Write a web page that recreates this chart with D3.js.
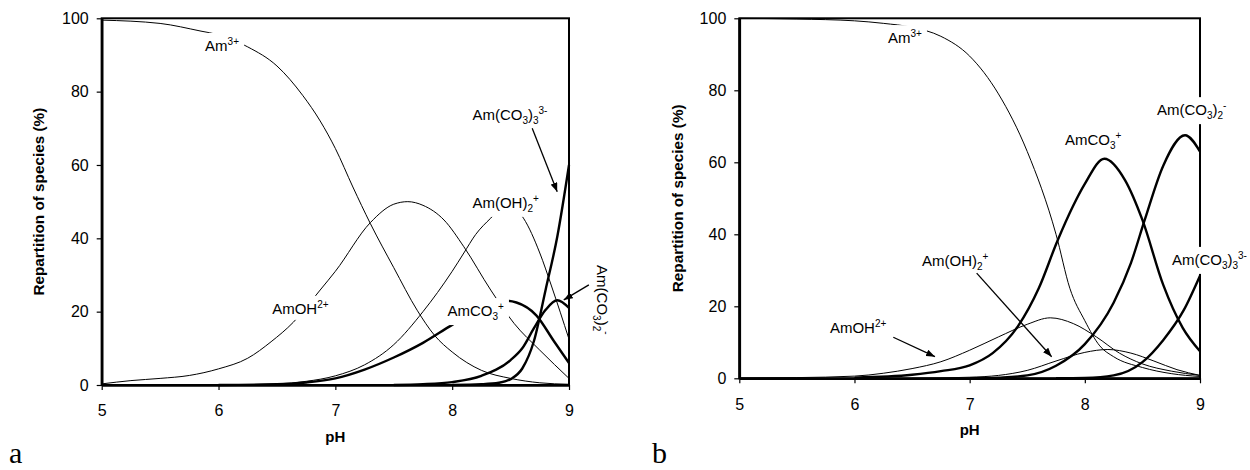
<!DOCTYPE html>
<html><head><meta charset="utf-8">
<script src="https://cdn.jsdelivr.net/npm/d3@7"></script>
<style>
body{margin:0;background:#fff;}
svg{display:block;font-family:Arial,"Liberation Sans",sans-serif;}
</style></head><body>
<svg id="c" width="1250" height="470"></svg>
<script>
// ---------- data ----------
const xTicks = [5, 6, 7, 8, 9];
const yTicks = [0, 20, 40, 60, 80, 100];
const xTitle = "pH";
const yTitle = "Repartition of species (%)";
const panelLetters = ["a", "b"];

// panel a  [pH, %]
const a_Am3     = [[5,99.5],[5.5,98.6],[5.85,96.5],[6,95.5],[6.25,92.2],[6.5,87],[6.72,79],[6.87,72],[7,64.5],[7.15,54],[7.3,44],[7.5,32],[7.7,20.4],[7.85,13.5],[8,9],[8.25,4],[8.5,1.8],[8.75,0.6],[9,0.2]];
const a_AmOH    = [[5,0.3],[5.25,1.2],[5.5,1.8],[5.75,2.6],[6,4.4],[6.25,7.3],[6.45,11.8],[6.64,17.1],[6.87,25.9],[7,31],[7.3,44.3],[7.5,49.3],[7.62,50],[7.75,49],[7.93,45],[8.1,37.7],[8.33,25.9],[8.53,16.8],[8.75,9.5],[9,1.8]];
const a_AmOH2   = [[6,0],[6.5,0.3],[6.75,1],[7,2.5],[7.25,5.5],[7.5,11],[7.75,20],[8,31],[8.1,36],[8.2,41],[8.33,45.5],[8.47,49.5],[8.61,45.5],[8.75,36],[8.85,27],[9,12.5]];
const a_AmCO3   = [[6,0],[6.5,0.2],[6.75,0.7],[7,1.8],[7.25,4.2],[7.5,7.5],[7.75,11.5],[8,16.4],[8.25,20.8],[8.45,23],[8.55,22.5],[8.72,19],[8.87,12],[9,6]];
const a_AmCO3_2 = [[7.5,0],[7.75,0.2],[8,0.8],[8.25,2.5],[8.5,6.8],[8.6,10],[8.7,15.5],[8.8,20.5],[8.9,23.1],[9,21]];
const a_AmCO3_3 = [[8,0],[8.25,0.2],[8.4,0.6],[8.5,1.6],[8.6,4.5],[8.7,12],[8.8,26],[8.9,40.5],[9,60]];

// panel b  [pH, %]
const b_Am3     = [[5,100],[5.5,99.8],[6,99.3],[6.25,98.6],[6.5,97.5],[6.75,95],[7,89.5],[7.25,79],[7.5,63],[7.75,40],[7.87,25],[8,16],[8.13,9],[8.25,6],[8.5,3],[8.75,1.3],[9,0.5]];
const b_AmOH    = [[5,0.1],[5.5,0.2],[6,0.6],[6.25,1.4],[6.5,2.7],[6.75,4.6],[7,7.8],[7.25,11.5],[7.5,15],[7.7,16.8],[7.9,15.2],[8.1,11.5],[8.3,7],[8.5,4],[8.75,2],[9,0.8]];
const b_AmOH2   = [[6.5,0],[7,0.3],[7.25,0.8],[7.5,2.2],[7.75,4.8],[8,7.2],[8.2,8],[8.4,7],[8.6,4.8],[8.8,2.4],[9,0.8]];
const b_AmCO3   = [[6,0.2],[6.5,1],[6.75,2],[7,3.6],[7.2,7],[7.42,14.5],[7.6,25],[7.76,38],[7.9,48],[8,54],[8.17,61],[8.35,55],[8.5,44],[8.68,26],[8.85,14],[9,7.5]];
const b_AmCO3_2 = [[7,0],[7.25,0.2],[7.5,0.8],[7.75,3.5],[8,9.5],[8.25,21],[8.4,32],[8.52,44],[8.68,59],[8.87,67.5],[9,63]];
const b_AmCO3_3 = [[7.75,0],[8,0.1],[8.25,0.8],[8.5,4.5],[8.68,10.6],[8.86,19],[9,28.5]];

// species labels (markup: ^{} superscript, _{} subscript)
const a_labels = [
  {txt:"Am^{3+}",            at:[5.885,91.1]},
  {txt:"Am(CO_{3})_{3}^{3-}", at:[8.173,72.3], arrow:[[8.685,70.0],[8.899,52.7]]},
  {txt:"Am(OH)_{2}^{+}",      at:[8.173,48.3]},
  {txt:"AmOH^{2+}",           at:[6.459,19.4]},
  {txt:"AmCO_{3}^{+}",        at:[7.959,18.8]},
  {txt:"Am(CO_{3})_{2}^{-}",  at:[9.24,32.7], rot:true, arrow:[[9.17,27.3],[8.955,23.2]]}
];
const b_labels = [
  {txt:"Am^{3+}",             at:[6.29,93.1]},
  {txt:"AmCO_{3}^{+}",        at:[7.827,64.8]},
  {txt:"Am(CO_{3})_{2}^{-}",  at:[8.626,73.1]},
  {txt:"Am(CO_{3})_{3}^{3-}", at:[8.756,31.5]},
  {txt:"Am(OH)_{2}^{+}",      at:[6.586,31.2], arrow:[[7.061,29.2],[7.712,6.0]]},
  {txt:"AmOH^{2+}",           at:[5.787,12.6], arrow:[[6.337,11.4],[6.699,6.0]]}
];

// ---------- drawing ----------
const svg = d3.select("#c");
const FS = 15;
const TFS = 16;

svg.append("defs").append("marker")
  .attr("id","arr").attr("markerUnits","userSpaceOnUse")
  .attr("markerWidth",10).attr("markerHeight",7)
  .attr("refX",9).attr("refY",3.5).attr("orient","auto")
  .append("path").attr("d","M0,0 L9,3.5 L0,7 Z").attr("fill","#000");

function parse(s){
  const out=[]; let i=0;
  while(i<s.length){
    if((s[i]==="^"||s[i]==="_") && s[i+1]==="{"){
      const j=s.indexOf("}",i);
      out.push({t:s.slice(i+2,j), k:s[i]==="^"?"sup":"sub"}); i=j+1;
    } else {
      let j=i; while(j<s.length && !((s[j]==="^"||s[j]==="_") && s[j+1]==="{")) j++;
      out.push({t:s.slice(i,j), k:"n"}); i=j;
    }
  }
  return out;
}

function drawPanel(cfg){
  const x = d3.scaleLinear().domain([5,9]).range([cfg.l, cfg.r]);
  const y = d3.scaleLinear().domain([0,100]).range([cfg.b, cfg.t]);
  const g = svg.append("g");

  // curves
  const line = d3.line().x(d=>x(d[0])).y(d=>y(d[1])).curve(d3.curveMonotoneX);
  cfg.series.forEach(s=>{
    g.append("path").attr("d",line(s.d)).attr("fill","none")
     .attr("stroke","#000").attr("stroke-width",s.w).attr("stroke-linejoin","round");
  });

  // frame
  g.append("rect").attr("x",cfg.l).attr("y",cfg.t).attr("width",cfg.r-cfg.l).attr("height",cfg.b-cfg.t)
   .attr("fill","none").attr("stroke","#000").attr("stroke-width",2);

  // axes
  const ax = g.append("g").attr("transform",`translate(0,${cfg.b})`)
    .call(d3.axisBottom(x).tickValues(xTicks).tickFormat(d3.format("d")).tickSize(5).tickSizeOuter(0).tickPadding(15));
  const ay = g.append("g").attr("transform",`translate(${cfg.l},0)`)
    .call(d3.axisLeft(y).tickValues(yTicks).tickSize(5).tickSizeOuter(0).tickPadding(8));
  [ax,ay].forEach(a=>{
    a.select(".domain").attr("stroke-width",2.6);
    a.selectAll(".tick line").attr("stroke-width",1.2);
    a.selectAll("text").attr("font-size",TFS).attr("font-family","Arial, 'Liberation Sans', sans-serif").attr("fill","#000");
  });

  // titles
  g.append("text").attr("x",(cfg.l+cfg.r)/2).attr("y",cfg.b+57).attr("text-anchor","middle")
   .attr("font-weight","bold").attr("font-size",FS).text(xTitle);
  g.append("text").attr("transform",`translate(${cfg.yt},${(cfg.t+cfg.b)/2}) rotate(-90)`)
   .attr("text-anchor","middle").attr("font-weight","bold").attr("font-size",15.3).text(yTitle);

  // labels
  cfg.labels.forEach(L=>{
    const lg = g.append("g");
    const px = x(L.at[0]), py = y(L.at[1]);
    lg.attr("transform", L.rot ? `translate(${px},${py}) rotate(90)` : `translate(${px},${py})`);
    const rect = lg.append("rect").attr("fill","#fff");
    const t = lg.append("text").attr("x",0).attr("y",0).attr("font-size",FS);
    let cur = 0;
    parse(L.txt).forEach(p=>{
      const target = p.k==="sup" ? -6 : p.k==="sub" ? 4 : 0;
      t.append("tspan").attr("dy",target-cur).attr("font-size",p.k==="n"?FS:10).text(p.t);
      cur = target;
    });
    const bb = t.node().getBBox();
    rect.attr("x",bb.x-5).attr("y",bb.y-3).attr("width",bb.width+10).attr("height",bb.height+6);
    if(L.arrow){
      g.append("line")
       .attr("x1",x(L.arrow[0][0])).attr("y1",y(L.arrow[0][1]))
       .attr("x2",x(L.arrow[1][0])).attr("y2",y(L.arrow[1][1]))
       .attr("stroke","#000").attr("stroke-width",1.3).attr("marker-end","url(#arr)");
    }
  });

  svg.append("text").attr("x",cfg.lx).attr("y",463).attr("font-family","'Liberation Serif','Times New Roman',serif")
   .attr("font-size",30).text(cfg.letter);
}

drawPanel({l:101.7, r:569, t:18.3, b:385, yt:44, lx:9, letter:panelLetters[0], labels:a_labels,
  series:[{d:a_Am3,w:1},{d:a_AmOH,w:1},{d:a_AmOH2,w:1},{d:a_AmCO3,w:2.4},{d:a_AmCO3_2,w:2.4},{d:a_AmCO3_3,w:2.4}]});
drawPanel({l:739.3, r:1200, t:18.3, b:378.3, yt:683, lx:652, letter:panelLetters[1], labels:b_labels,
  series:[{d:b_Am3,w:1},{d:b_AmOH,w:1},{d:b_AmOH2,w:1},{d:b_AmCO3,w:2.4},{d:b_AmCO3_2,w:2.4},{d:b_AmCO3_3,w:2.4}]});
</script>
</body></html>
